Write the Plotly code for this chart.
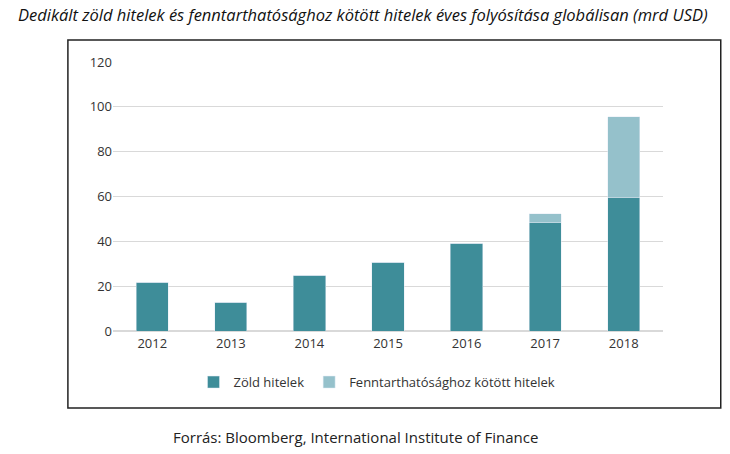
import plotly.graph_objects as go

years = ["2012", "2013", "2014", "2015", "2016", "2017", "2018"]
zold = [21.8, 12.9, 24.9, 30.7, 39.2, 48.4, 59.6]
fenntarthato = [0, 0, 0, 0, 0, 4.0, 36.0]

DARK = "#3e8d99"
LIGHT = "#95c1cb"
FONT = "Open Sans, Liberation Sans, sans-serif"

fig = go.Figure()
fig.add_bar(x=years, y=zold, name="Zöld hitelek", marker_color=DARK)
fig.add_bar(x=years, y=fenntarthato, name="Fenntarthatósághoz kötött hitelek",
            marker_color=LIGHT)

fig.update_layout(
    barmode="stack",
    bargap=0.59,
    width=730, height=454,
    margin=dict(l=105, r=75, t=54, b=131),
    paper_bgcolor="white", plot_bgcolor="white",
    font=dict(family=FONT, size=13, color="#333"),
    showlegend=True,
    legend=dict(orientation="h", traceorder="normal", x=0.48, xanchor="center",
                y=-0.19, yanchor="middle", font=dict(size=13, color="#333")),
    yaxis=dict(range=[0, 120], dtick=20, showgrid=True, gridcolor="#d9d9d9",
               zeroline=True, zerolinecolor="#d9d9d9", ticks="", ticklen=8,
               tickcolor="white", tickfont=dict(size=13)),
    xaxis=dict(showline=True, linecolor="#d9d9d9", tickfont=dict(size=13)),
    shapes=[dict(type="rect", xref="paper", yref="paper",
                 x0=-0.082, x1=1.105, y0=-0.286, y1=1.082,
                 line=dict(color="#222", width=1.5))],
    annotations=[
        dict(text="<i>Dedikált zöld hitelek és fenntarthatósághoz kötött hitelek éves folyósítása globálisan (mrd USD)</i>",
             xref="paper", yref="paper", x=0.455, y=1.175, showarrow=False,
             font=dict(size=16.5, color="#111"), xanchor="center", yanchor="middle"),
        dict(text="Forrás: Bloomberg, International Institute of Finance",
             xref="paper", yref="paper", x=0.44, y=-0.394, showarrow=False,
             font=dict(size=15, color="#222"), xanchor="center", yanchor="middle"),
    ],
)

fig.write_html("out.html")
